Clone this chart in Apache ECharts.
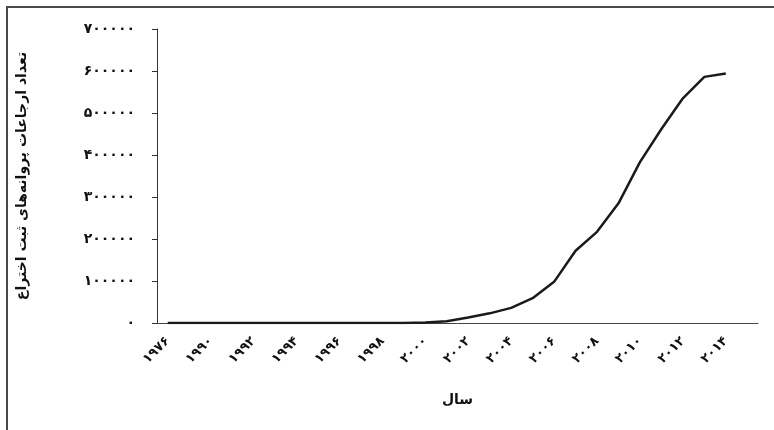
<!DOCTYPE html>
<html>
<head>
<meta charset="utf-8">
<script src="https://cdn.jsdelivr.net/npm/echarts@6/dist/echarts.min.js"></script>
<style>
  html, body { margin: 0; padding: 0; background: #fff; }
  #chart { width: 774px; height: 430px; }
</style>
</head>
<body>
<div id="chart"></div>
<script>
// سال‌ها (۱۹۸۹ و ۲۰۱۵ برچسب ندارند)
var years = ['۱۹۷۶', '۱۹۸۹', '۱۹۹۰', '۱۹۹۱', '۱۹۹۲', '۱۹۹۳', '۱۹۹۴', '۱۹۹۵', '۱۹۹۶', '۱۹۹۷',
  '۱۹۹۸', '۱۹۹۹', '۲۰۰۰', '۲۰۰۱', '۲۰۰۲', '۲۰۰۳', '۲۰۰۴', '۲۰۰۵', '۲۰۰۶', '۲۰۰۷',
  '۲۰۰۸', '۲۰۰۹', '۲۰۱۰', '۲۰۱۱', '۲۰۱۲', '۲۰۱۳', '۲۰۱۴', '۲۰۱۵'];
// تعداد ارجاعات
var citations = [0, 0, 0, 0, 0, 0, 0, 0, 0, 0,
  0, 200, 1000, 4000, 13000, 23000, 36000, 59000, 98000, 172000,
  217000, 285000, 383000, 462000, 535000, 586000, 594000, null];
var yTickLabels = ['۰', '۱۰۰۰۰۰', '۲۰۰۰۰۰', '۳۰۰۰۰۰', '۴۰۰۰۰۰', '۵۰۰۰۰۰', '۶۰۰۰۰۰', '۷۰۰۰۰۰'];
var yStep = 100000;
var yName = 'تعداد ارجاعات پروانه‌های ثبت اختراع';
var xName = 'سال';

var fa = 'DejaVu Sans';
var chart = echarts.init(document.getElementById('chart'));
chart.setOption({
  backgroundColor: '#fff',
  animation: false,
  graphic: [{
    type: 'rect',
    shape: { x: 7, y: 7, width: 820, height: 480 },
    style: { fill: 'none', stroke: '#4a4a4a', lineWidth: 2 },
    silent: true
  }],
  grid: { left: 157, right: 16, top: 29, bottom: 107 },
  xAxis: {
    type: 'category',
    data: years,
    boundaryGap: true,
    name: xName,
    nameLocation: 'middle',
    nameGap: 70,
    nameTextStyle: { fontFamily: fa, fontWeight: 'bold', fontSize: 14, color: '#111' },
    axisLine: { lineStyle: { color: '#444', width: 1 } },
    axisTick: { show: false },
    axisLabel: {
      interval: 1,
      rotate: 45,
      margin: 16,
      fontFamily: fa,
      fontWeight: 'bold',
      fontSize: 13,
      color: '#111'
    },
    splitLine: { show: false }
  },
  yAxis: {
    type: 'value',
    min: 0,
    max: 700000,
    interval: yStep,
    name: yName,
    nameLocation: 'middle',
    nameGap: 128,
    nameRotate: 90,
    nameTextStyle: { fontFamily: fa, fontWeight: 'bold', fontSize: 14, color: '#111' },
    axisLine: { show: true, lineStyle: { color: '#333', width: 1 } },
    axisTick: { show: true, inside: false, length: 5, lineStyle: { color: '#333' } },
    axisLabel: {
      margin: 22,
      fontFamily: fa,
      fontWeight: 'bold',
      fontSize: 14,
      color: '#111',
      formatter: function (v) { return yTickLabels[Math.round(v / yStep)]; }
    },
    splitLine: { show: false }
  },
  series: [{
    type: 'line',
    data: citations,
    showSymbol: false,
    symbol: 'none',
    lineStyle: { color: '#1a1a1a', width: 2.5 },
    connectNulls: false
  }]
});
</script>
</body>
</html>
